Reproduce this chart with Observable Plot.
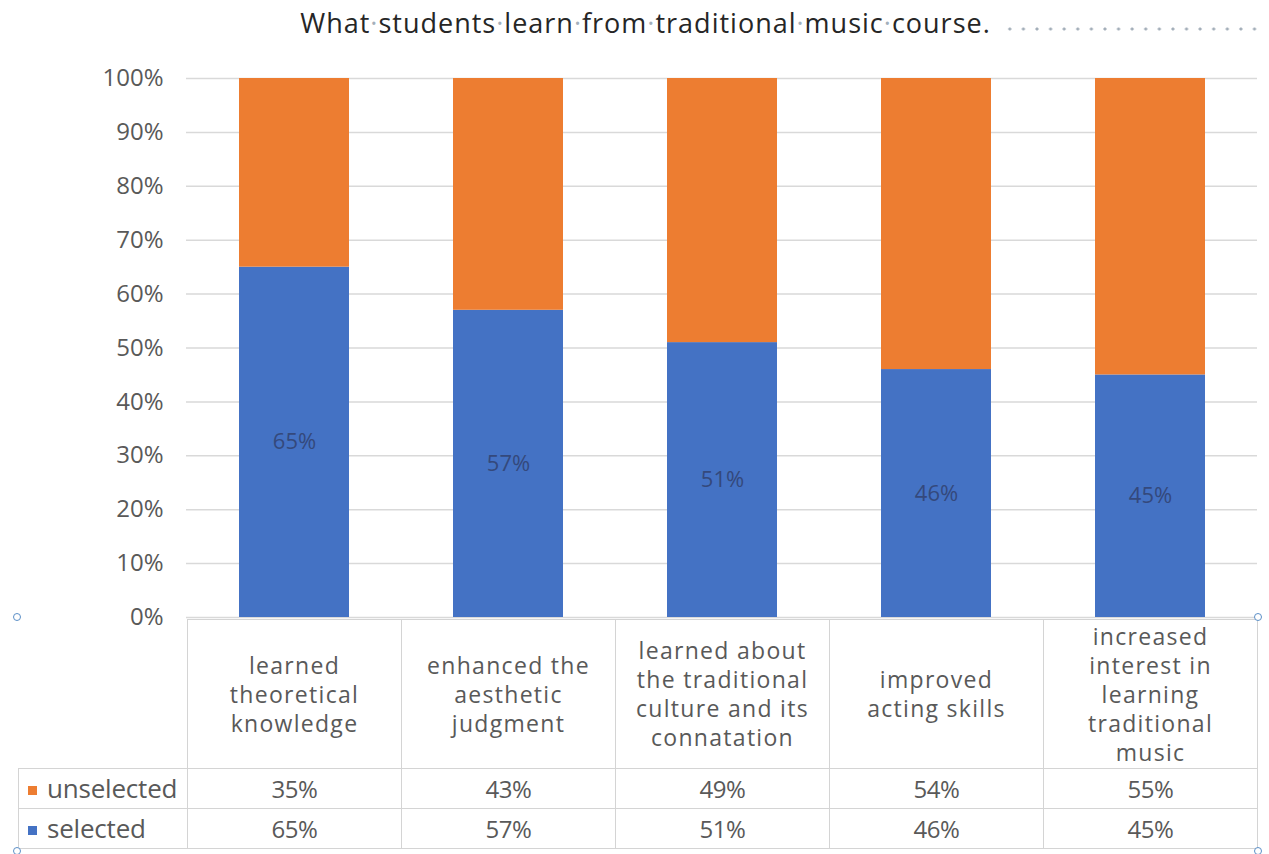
<!DOCTYPE html>
<html>
<head>
<meta charset="utf-8">
<script src="https://cdn.jsdelivr.net/npm/d3@7"></script>
<script src="https://cdn.jsdelivr.net/npm/@observablehq/plot@0.6"></script>
<style>
  body { margin: 0; background: #fff; }
  #wrap { position: relative; width: 1269px; height: 854px; overflow: hidden; font-family: "Open Sans", "Noto Sans", sans-serif; color: #595959; }
  #title { position: absolute; top: 4px; left: 11px; width: 1269px; text-align: center; font-size: 27px; color: #262626; letter-spacing: 1px; }
  #title .dot { color: #a3afbb; }
  #dots { position: absolute; left: 1003px; top: 27px; width: 262px; height: 4px;
          background-image: radial-gradient(circle, #a3aeb9 1.3px, transparent 1.8px);
          background-size: 13.6px 4px; }
  #chart { position: absolute; left: 0; top: 50px; }
  #chart svg { overflow: visible; }
  #tbl { position: absolute; left: 18px; top: 619px; border-collapse: collapse; table-layout: fixed; width: 1239px; color: #595959; background: transparent; }
  #tbl td { border: 1px solid #d4d4d4; text-align: center; padding: 0; }
  #tbl tr.head td { height: 148px; white-space: pre-line; line-height: 29px; vertical-align: middle; font-size: 23px; letter-spacing: 1.3px; }
  #tbl tr.row td { height: 39px; line-height: 39px; font-size: 24px; letter-spacing: -0.5px; }
  #tbl tr.head td.blank { border-top: none; border-left: none; }
  #tbl td.name { text-align: left; padding-left: 9px; font-size: 26px !important; letter-spacing: -0.2px !important; }
  #tbl .sw { display: inline-block; width: 9px; height: 9px; margin-right: 10px; vertical-align: middle; position: relative; top: -1px; }
  .handle { position: absolute; width: 6px; height: 6px; border: 1.5px solid #5b8fc7; border-radius: 50%; background: #fff; }
</style>
</head>
<body>
<div id="wrap">
  <div id="title"></div>
  <div id="dots"></div>
  <div id="chart"></div>
  <table id="tbl"></table>
</div>
<script>
// ---- data ----
const titleText = "What students learn from traditional music course.";
const categories = [
  "learned\ntheoretical\nknowledge",
  "enhanced the\naesthetic\njudgment",
  "learned about\nthe traditional\nculture and its\nconnatation",
  "improved\nacting skills",
  "increased\ninterest in\nlearning\ntraditional\nmusic"
];
const seriesNames = ["selected", "unselected"];
const selected = [65, 57, 51, 46, 45];
const unselected = [35, 43, 49, 54, 55];
const yTicks = [0, 10, 20, 30, 40, 50, 60, 70, 80, 90, 100];
const colors = ["#4472C4", "#ED7D31"];

// ---- title ----
const titleEl = document.getElementById("title");
titleText.split(" ").forEach((w, i, arr) => {
  titleEl.appendChild(document.createTextNode(w));
  if (i < arr.length - 1) {
    const s = document.createElement("span");
    s.className = "dot";
    s.textContent = "·";
    titleEl.appendChild(s);
  }
});

// ---- long data for stacking ----
const data = [];
categories.forEach((c, i) => {
  data.push({category: c, series: "selected", value: selected[i]});
  data.push({category: c, series: "unselected", value: unselected[i]});
});
const selData = data.filter(d => d.series === "selected");

const plot = Plot.plot({
  width: 1269,
  height: 590,
  marginTop: 28,
  marginBottom: 23,
  marginLeft: 186,
  marginRight: 12,
  style: { fontFamily: "'Open Sans', 'Noto Sans', sans-serif", fontSize: "24px", color: "#595959", background: "transparent" },
  x: { domain: categories, paddingInner: 0.486, paddingOuter: 0.243, axis: null },
  y: { domain: [0, 100], axis: null },
  color: { domain: seriesNames, range: colors },
  marks: [
    Plot.ruleY(yTicks, { stroke: "#d9d9d9", strokeWidth: 1.5 }),
    Plot.axisY({ ticks: yTicks, tickFormat: d => d + "%", tickSize: 0, tickPadding: 23, label: null, fontSize: 24, fill: "#595959", letterSpacing: "-0.8px" }),
    Plot.barY(data, { x: "category", y: "value", fill: "series", order: seriesNames }),
    Plot.text(selData, { x: "category", y: d => d.value / 2, text: d => d.value + "%", fill: "#34497c", fontSize: 22, letterSpacing: "-0.5px" })
  ]
});
document.getElementById("chart").appendChild(plot);

// ---- data table ----
const tbl = document.getElementById("tbl");
const cg = document.createElement("colgroup");
[169, 214, 214, 214, 214, 214].forEach(w => { const c = document.createElement("col"); c.style.width = w + "px"; cg.appendChild(c); });
tbl.appendChild(cg);
const head = document.createElement("tr");
head.className = "head";
const blank = document.createElement("td"); blank.className = "blank"; head.appendChild(blank);
categories.forEach(c => { const td = document.createElement("td"); td.textContent = c; head.appendChild(td); });
tbl.appendChild(head);
[["unselected", unselected, colors[1]], ["selected", selected, colors[0]]].forEach(([name, vals, col]) => {
  const tr = document.createElement("tr"); tr.className = "row";
  const nt = document.createElement("td"); nt.className = "name";
  const sw = document.createElement("span"); sw.className = "sw"; sw.style.background = col;
  nt.appendChild(sw); nt.appendChild(document.createTextNode(name));
  tr.appendChild(nt);
  vals.forEach(v => { const td = document.createElement("td"); td.textContent = v + "%"; tr.appendChild(td); });
  tbl.appendChild(tr);
});

// ---- selection handles ----
[[17, 617], [1258, 617], [17, 851], [1258, 851]].forEach(([x, y]) => {
  const h = document.createElement("div"); h.className = "handle";
  h.style.left = (x - 4) + "px"; h.style.top = (y - 4) + "px";
  document.getElementById("wrap").appendChild(h);
});
</script>
</body>
</html>
